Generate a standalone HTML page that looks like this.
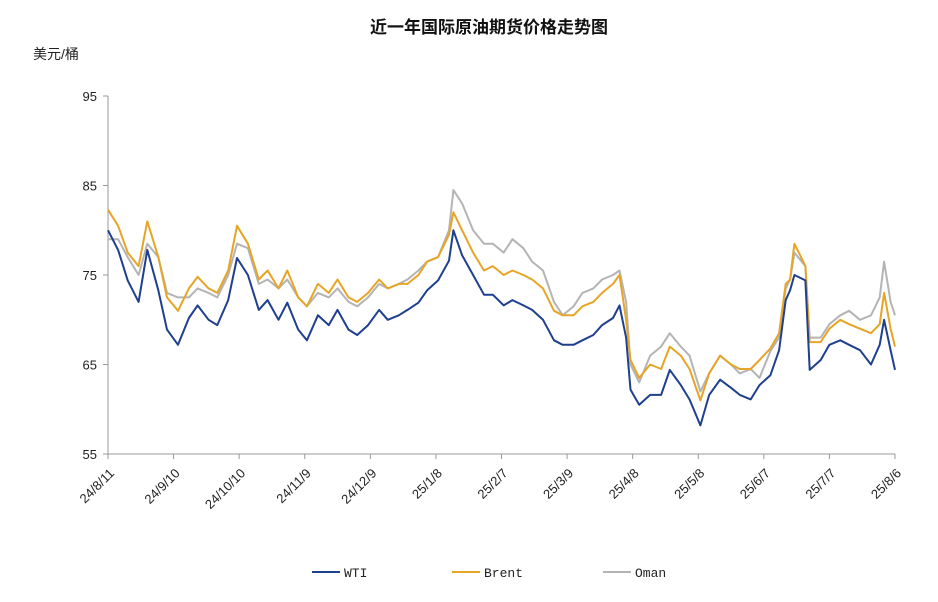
<!DOCTYPE html>
<html><head><meta charset="utf-8"><style>
body{margin:0;background:#fff;width:938px;height:602px;overflow:hidden;font-family:"Liberation Sans","Noto Sans CJK SC",sans-serif}
</style></head><body>
<svg id="c" width="938" height="602" style="position:absolute;left:0;top:0">
<text x="489" y="33" text-anchor="middle" font-size="17" font-weight="bold" fill="#111">近一年国际原油期货价格走势图</text>
<text x="33" y="59" font-size="14" fill="#222">美元/桶</text>
<g id="axes"></g><g id="series"></g><g id="legend"></g>
</svg>
<script>
const yTicks=[55,65,75,85,95];
const xTickLabels=["24/8/11","24/9/10","24/10/10","24/11/9","24/12/9","25/1/8","25/2/7","25/3/9","25/4/8","25/5/8","25/6/7","25/7/7","25/8/6"];
const xTickDays=[0,30,60,90,120,150,180,210,240,270,300,330,360];
const days=[0,4.6,9,14,18,23,27,32,37,41,46,50,55,59,64,69,73,78,82,87,91,96,101,105,110,114,119,124,128,133,137,142,146,151,156,158,162,167,172,176,181,185,190,194,199,204,208,213,217,222,226,231,234,237,239,243,248,253,257,262,266,271,275,280,285,289,294,298,303,307,310,312,314,319,321,326,330,335,339,344,349,353,355,358,360];
const wti=[80.0,77.8,74.4,72.0,77.8,73.3,68.9,67.2,70.2,71.6,70.0,69.4,72.2,76.9,75.0,71.1,72.2,70.0,71.9,68.9,67.7,70.5,69.4,71.1,68.9,68.3,69.4,71.1,70.0,70.5,71.1,71.9,73.3,74.4,76.6,80.0,77.2,75.0,72.8,72.8,71.6,72.2,71.6,71.1,70.0,67.7,67.2,67.2,67.7,68.3,69.4,70.2,71.6,68.0,62.2,60.5,61.6,61.6,64.4,62.7,61.1,58.2,61.6,63.3,62.4,61.6,61.1,62.7,63.8,66.6,72.2,73.3,75.0,74.4,64.4,65.5,67.2,67.7,67.2,66.6,65.0,67.2,70.0,66.6,64.4];
const brent=[82.3,80.5,77.5,76.0,81.0,77.0,72.5,71.0,73.5,74.8,73.5,73.0,75.5,80.5,78.5,74.5,75.5,73.5,75.5,72.5,71.5,74.0,73.0,74.5,72.5,72.0,73.0,74.5,73.5,74.0,74.0,75.0,76.5,77.0,79.5,82.0,80.0,77.5,75.5,76.0,75.0,75.5,75.0,74.5,73.5,71.0,70.5,70.5,71.5,72.0,73.0,74.0,75.0,70.0,65.5,63.5,65.0,64.5,67.0,66.0,64.5,61.0,64.0,66.0,65.0,64.5,64.5,65.5,66.8,68.5,74.0,74.5,78.5,76.0,67.5,67.5,69.0,70.0,69.5,69.0,68.5,69.5,73.0,69.0,67.0];
const oman=[79.0,79.0,77.0,75.0,78.5,77.0,73.0,72.5,72.5,73.5,73.0,72.5,75.0,78.5,78.0,74.0,74.5,73.5,74.5,72.5,71.5,73.0,72.5,73.5,72.0,71.5,72.5,74.0,73.5,74.0,74.5,75.5,76.5,77.0,80.0,84.5,83.0,80.0,78.5,78.5,77.5,79.0,78.0,76.5,75.5,72.0,70.5,71.5,73.0,73.5,74.5,75.0,75.5,72.0,65.0,63.0,66.0,67.0,68.5,67.0,66.0,62.0,64.0,66.0,65.0,64.0,64.5,63.5,66.5,68.0,73.5,74.5,77.5,76.0,68.0,68.0,69.5,70.5,71.0,70.0,70.5,72.5,76.5,72.0,70.5];

const NS="http://www.w3.org/2000/svg";
const X0=108,X1=895,Y0=454,Y1=96;
const xs=d=>X0+(X1-X0)*d/360;
const ys=v=>Y0-(Y0-Y1)*(v-55)/40;
function el(tag,attrs,parent,txt){const e=document.createElementNS(NS,tag);for(const k in attrs)e.setAttribute(k,attrs[k]);if(txt!==undefined)e.textContent=txt;parent.appendChild(e);return e;}
const axes=document.getElementById('axes');
const ya=el('line',{x1:X0,y1:Y1,x2:X0,y2:Y0,stroke:'#999'},axes);


yTicks.forEach(v=>{
  const t=el('line',{x1:X0-5,y1:ys(v),x2:X0,y2:ys(v),stroke:'#999'},axes);
  
  
  const l=el('text',{x:97,y:ys(v)+5,'text-anchor':'end','font-size':13,fill:'#222'},axes,String(v));
  
  
});
const xa=el('line',{x1:X0,y1:Y0,x2:X1,y2:Y0,stroke:'#999'},axes);


xTickDays.forEach((d,i)=>{
  const x=xs(d);
  const t=el('line',{x1:x,y1:Y0,x2:x,y2:Y0+5,stroke:'#999'},axes);
  
  
  const l=el('text',{x:x+7,y:Y0+20,'text-anchor':'end','font-size':13,fill:'#222',transform:`rotate(-45 ${x+7} ${Y0+20})`},axes,xTickLabels[i]);
  
  
});
const sg=document.getElementById('series');
const defs=[[oman,'#b4b4b4','oman-line'],[brent,'#e6a526','brent-line'],[wti,'#1f3f8f','wti-line']];
defs.forEach(([vals,col,name])=>{
  const p=el('polyline',{points:vals.map((v,i)=>xs(days[i]).toFixed(1)+','+ys(v).toFixed(1)).join(' '),fill:'none',stroke:col,'stroke-width':2,'stroke-linejoin':'round'},sg);
  
  
});
const lg=document.getElementById('legend');
[['WTI','#1f3f8f',312],['Brent','#e6a526',452],['Oman','#b4b4b4',603]].forEach(([n,c,x])=>{
  const g=el('g',{},lg);
  
  
  el('line',{x1:x,y1:572,x2:x+28,y2:572,stroke:c,'stroke-width':2},g);
  el('text',{x:x+32,y:577,'font-size':13,fill:'#222','font-family':'Liberation Mono, monospace'},g,n);
});
</script>
</body></html>
